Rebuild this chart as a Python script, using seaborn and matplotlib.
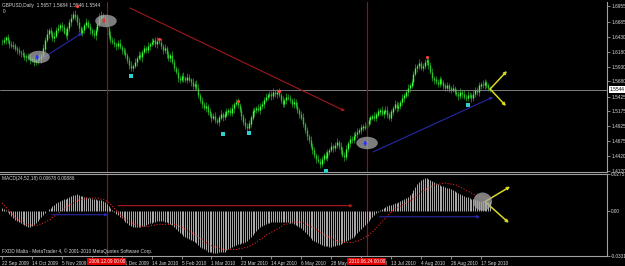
import numpy as np
import pandas as pd
import matplotlib
matplotlib.use("Agg")
import matplotlib.pyplot as plt
import matplotlib.transforms as mtransforms
from matplotlib.patches import Ellipse
import seaborn as sns

# ---------------- data ----------------
close = [
    1.635, 1.638, 1.642, 1.638, 1.631, 1.628, 1.630, 1.624, 1.621, 1.618,
    1.616, 1.613, 1.609, 1.611, 1.608, 1.604, 1.606, 1.601, 1.604, 1.609,
    1.607, 1.612, 1.624, 1.638, 1.648, 1.655, 1.650, 1.641, 1.645, 1.655,
    1.658, 1.663, 1.660, 1.651, 1.646, 1.658, 1.668, 1.675, 1.682, 1.678,
    1.668, 1.658, 1.651, 1.655, 1.663, 1.668, 1.661, 1.655, 1.650, 1.646,
    1.655, 1.665, 1.675, 1.680, 1.675, 1.668, 1.658, 1.646, 1.638, 1.635,
    1.631, 1.628, 1.633, 1.626, 1.621, 1.618, 1.613, 1.604, 1.596, 1.591,
    1.594, 1.601, 1.608, 1.613, 1.609, 1.618, 1.624, 1.621, 1.628, 1.631,
    1.635, 1.638, 1.631, 1.636, 1.635, 1.628, 1.621, 1.624, 1.614, 1.608,
    1.613, 1.601, 1.591, 1.584, 1.574, 1.571, 1.577, 1.574, 1.571, 1.576,
    1.571, 1.567, 1.561, 1.564, 1.557, 1.545, 1.537, 1.530, 1.523, 1.526,
    1.517, 1.512, 1.507, 1.510, 1.503, 1.500, 1.507, 1.513, 1.508, 1.512,
    1.517, 1.520, 1.515, 1.523, 1.530, 1.533, 1.528, 1.520, 1.510, 1.500,
    1.493, 1.490, 1.497, 1.507, 1.517, 1.520, 1.523, 1.520, 1.527, 1.530,
    1.537, 1.542, 1.545, 1.547, 1.544, 1.550, 1.547, 1.550, 1.545, 1.537,
    1.530, 1.537, 1.542, 1.540, 1.537, 1.530, 1.533, 1.527, 1.520, 1.513,
    1.507, 1.496, 1.486, 1.476, 1.469, 1.459, 1.452, 1.444, 1.437, 1.434,
    1.429, 1.437, 1.444, 1.440, 1.449, 1.452, 1.459, 1.456, 1.461, 1.466,
    1.459, 1.452, 1.444, 1.441, 1.454, 1.464, 1.471, 1.469, 1.476, 1.479,
    1.483, 1.486, 1.490, 1.493, 1.490, 1.496, 1.503, 1.507, 1.510, 1.507,
    1.512, 1.517, 1.520, 1.513, 1.517, 1.520, 1.512, 1.507, 1.517, 1.523,
    1.530, 1.523, 1.527, 1.533, 1.540, 1.544, 1.550, 1.557, 1.561, 1.567,
    1.581, 1.591, 1.594, 1.598, 1.591, 1.594, 1.601, 1.604, 1.596, 1.584,
    1.574, 1.571, 1.567, 1.564, 1.571, 1.566, 1.561, 1.557, 1.561, 1.556,
    1.554, 1.557, 1.550, 1.547, 1.544, 1.550, 1.547, 1.542, 1.540, 1.545,
    1.544, 1.540, 1.547, 1.554, 1.550, 1.561, 1.564, 1.562, 1.567, 1.561,
    1.557, 1.5544,
]

# upper / lower shadow lengths of each daily candle, in pips
wick_up_pips = [
    40, 55, 30, 62, 25, 48, 70, 35, 44, 58,
    33, 65, 42, 28, 50, 72, 38, 46, 60, 30,
    52, 36, 68, 45, 80, 40, 57, 34, 63, 49,
    70, 38, 55, 42, 66, 31, 58, 75, 47, 60,
    36, 64, 43, 52, 29, 71, 45, 59, 38, 66,
    54, 41, 77, 62, 35, 48, 56, 33, 69, 44,
    58, 30, 47, 65, 39, 53, 72, 36, 50, 61,
    43, 67, 34, 56, 48, 29, 63, 45, 70, 38,
    59, 35, 51, 74, 42, 57, 33, 66, 46, 52,
    37, 62, 48, 30, 68, 45, 55, 71, 39, 60,
    50, 34, 64, 43, 58, 76, 41, 53, 36, 67,
    45, 70, 38, 55, 62, 33, 49, 74, 42, 57,
    61, 39, 52, 68, 35, 47, 72, 44, 56, 31,
    66, 43, 58, 37, 71, 50, 34, 62, 48, 55,
    40, 64, 33, 57, 46, 69, 38, 53, 75, 44,
    58, 36, 67, 45, 52, 31, 63, 49, 71, 40,
    54, 73, 42, 60, 37, 66, 48, 57, 34, 69,
    45, 58, 32, 71, 50, 39, 64, 43, 56, 61,
    37, 68, 52, 44, 73, 35, 59, 47, 62, 50,
    66, 41, 55, 34, 60, 72, 46, 53, 38, 64,
    49, 57, 36, 68, 43, 61, 74, 40, 52, 33,
    70, 45, 58, 39, 65, 48, 55, 72, 37, 60,
    52, 66, 43, 75, 38, 59, 47, 68, 54, 41,
    63, 35, 57, 46, 70, 42, 53, 38, 66, 49,
    44, 61, 37, 55, 48, 69, 33, 58, 45, 62,
    56, 40, 67, 43, 52, 64, 39, 57, 48, 35,
    50, 42,
]
wick_dn_pips = [
    48, 35, 60, 44, 70, 32, 55, 41, 66, 50,
    62, 38, 53, 75, 42, 57, 34, 68, 45, 59,
    36, 71, 47, 58, 33, 64, 50, 43, 69, 39,
    55, 46, 63, 37, 52, 74, 41, 59, 35, 67,
    44, 60, 38, 70, 49, 56, 33, 65, 51, 42,
    73, 39, 58, 45, 62, 34, 69, 48, 55, 37,
    41, 66, 52, 36, 71, 47, 58, 43, 64, 50,
    59, 35, 68, 44, 53, 75, 40, 57, 46, 62,
    38, 54, 47, 65, 33, 60, 72, 42, 56, 49,
    67, 43, 58, 36, 61, 50, 39, 70, 45, 55,
    42, 64, 51, 73, 38, 57, 46, 62, 35, 68,
    56, 40, 69, 47, 53, 36, 65, 44, 71, 49,
    34, 62, 45, 58, 74, 41, 55, 38, 67, 52,
    48, 70, 39, 56, 43, 65, 59, 37, 61, 46,
    63, 37, 54, 42, 68, 50, 45, 72, 39, 57,
    44, 58, 66, 35, 60, 48, 71, 40, 53, 62,
    39, 52, 47, 69, 55, 36, 63, 44, 58, 41,
    71, 45, 59, 38, 64, 52, 34, 67, 49, 56,
    43, 60, 37, 72, 48, 57, 65, 40, 54, 46,
    58, 36, 68, 50, 44, 61, 39, 73, 47, 55,
    65, 42, 53, 38, 70, 46, 57, 35, 62, 51,
    37, 64, 49, 56, 43, 68, 41, 59, 72, 45,
    54, 40, 66, 48, 35, 61, 52, 44, 69, 38,
    47, 71, 39, 58, 52, 36, 64, 45, 57, 62,
    60, 38, 55, 43, 67, 49, 72, 41, 53, 46,
    35, 63, 48, 57, 40, 69, 52, 44, 61, 38,
    55, 47,
]

# MACD main (histogram) and signal, in thousandths
macd_main_e3 = [
    2.2, 1.5, 0.7, -0.7, -2.2, -3.7, -5.2, -6.7, -7.4, -8.2,
    -8.9, -9.7, -10.4, -11.2, -11.9, -11.9, -11.2, -10.4, -8.9, -7.4,
    -6.0, -4.5, -3.0, -1.5, 0.0, 1.5, 2.2, 3.7, 4.5, 6.0,
    6.7, 7.4, 8.2, 8.9, 8.9, 9.7, 10.4, 11.2, 11.9, 11.9,
    12.6, 11.9, 11.2, 11.2, 10.4, 10.4, 9.7, 9.7, 8.9, 8.9,
    8.9, 8.2, 8.2, 8.2, 7.4, 6.7, 5.2, 3.7, 2.2, 0.7,
    -0.7, -2.2, -3.0, -4.5, -5.2, -6.7, -8.2, -8.9, -10.4, -11.2,
    -11.9, -11.9, -11.9, -11.9, -11.9, -11.2, -11.2, -10.4, -9.7, -8.9,
    -8.9, -8.2, -8.2, -7.4, -7.4, -7.4, -7.4, -8.2, -8.2, -8.9,
    -9.7, -10.4, -11.9, -13.4, -14.9, -16.4, -17.1, -18.6, -19.3, -20.1,
    -20.8, -21.6, -22.3, -23.1, -23.8, -25.3, -26.8, -27.5, -28.3, -29.0,
    -29.8, -30.5, -30.5, -31.2, -31.2, -31.2, -30.5, -30.5, -29.8, -29.8,
    -29.0, -28.3, -27.5, -26.8, -26.0, -25.3, -24.6, -24.6, -23.8, -23.8,
    -23.1, -22.3, -20.8, -19.3, -17.9, -16.4, -14.9, -13.4, -11.9, -11.2,
    -10.4, -9.7, -8.9, -8.9, -8.2, -8.2, -8.2, -8.2, -8.2, -8.2,
    -8.2, -8.2, -8.2, -8.2, -8.9, -8.9, -9.7, -10.4, -11.2, -11.9,
    -12.6, -14.1, -15.6, -17.1, -18.6, -20.1, -21.6, -22.3, -23.1, -23.8,
    -24.6, -25.3, -26.0, -26.0, -26.0, -26.8, -26.8, -26.0, -26.0, -25.3,
    -25.3, -24.6, -23.8, -23.1, -22.3, -21.6, -20.8, -20.1, -19.3, -17.9,
    -16.4, -14.9, -13.4, -11.9, -10.4, -8.9, -7.4, -6.0, -4.5, -3.0,
    -1.5, -0.7, 0.7, 1.5, 2.2, 3.0, 3.7, 4.5, 4.5, 5.2,
    6.0, 6.0, 6.7, 7.4, 8.2, 8.9, 9.7, 10.4, 11.9, 13.4,
    15.6, 17.9, 20.1, 21.6, 23.1, 23.8, 24.6, 24.6, 23.8, 23.1,
    22.3, 21.6, 20.8, 20.1, 19.3, 18.6, 18.6, 17.9, 17.1, 17.1,
    16.4, 15.6, 14.9, 14.1, 13.4, 12.6, 11.9, 11.2, 10.4, 10.4,
    9.7, 8.9, 8.9, 8.2, 8.2, 7.4, 7.4, 7.4, 6.7, 6.7,
    6.7, 6.78,
]
macd_signal_e3 = [
    6.0, 4.5, 3.0, 1.5, 0.0, -1.5, -3.0, -4.5, -6.0, -6.7,
    -7.4, -8.2, -8.9, -9.7, -9.7, -10.4, -10.4, -10.4, -10.4, -10.4,
    -9.7, -9.7, -8.9, -8.2, -7.4, -6.7, -6.0, -4.5, -3.7, -3.0,
    -1.5, -0.7, 0.7, 1.5, 3.0, 3.7, 4.5, 5.2, 6.0, 6.7,
    7.4, 8.2, 8.2, 8.9, 8.9, 9.7, 9.7, 9.7, 9.7, 9.7,
    9.7, 9.7, 9.7, 8.9, 8.9, 8.2, 7.4, 6.7, 5.2, 3.7,
    2.2, 0.7, -0.7, -2.2, -3.7, -5.2, -6.0, -6.7, -7.4, -8.2,
    -8.9, -9.7, -10.4, -10.4, -11.2, -11.2, -11.2, -11.2, -11.2, -11.2,
    -10.4, -10.4, -10.4, -9.7, -9.7, -9.7, -9.7, -9.7, -9.7, -9.7,
    -9.7, -9.7, -9.7, -10.4, -10.4, -11.2, -11.9, -12.6, -13.4, -14.1,
    -14.9, -15.6, -16.4, -17.1, -17.9, -19.3, -20.1, -20.8, -22.3, -23.1,
    -23.8, -24.6, -25.3, -26.0, -26.8, -26.8, -27.5, -27.5, -28.3, -28.3,
    -28.3, -28.3, -28.3, -28.3, -28.3, -28.3, -28.3, -27.5, -27.5, -27.5,
    -26.8, -26.8, -26.0, -25.3, -24.6, -23.8, -23.1, -21.6, -20.8, -20.1,
    -19.3, -17.9, -17.1, -16.4, -15.6, -14.9, -14.1, -13.4, -12.6, -11.9,
    -10.4, -9.7, -9.7, -8.9, -8.9, -8.2, -8.2, -8.2, -8.2, -8.2,
    -8.2, -8.9, -8.9, -9.7, -10.4, -11.2, -11.9, -12.6, -13.4, -14.9,
    -15.6, -16.4, -17.1, -17.9, -18.6, -19.3, -20.1, -20.8, -21.6, -21.6,
    -22.3, -22.3, -23.1, -23.1, -23.1, -23.1, -23.1, -23.1, -23.1, -22.3,
    -22.3, -21.6, -20.8, -20.1, -19.3, -18.6, -17.9, -16.4, -15.6, -14.1,
    -12.6, -11.2, -9.7, -8.2, -6.7, -5.2, -3.7, -2.2, -0.7, 0.7,
    1.5, 2.2, 3.0, 3.7, 4.5, 5.2, 6.0, 6.7, 7.4, 8.2,
    9.7, 10.4, 11.9, 12.6, 14.1, 14.9, 15.6, 16.4, 17.1, 17.9,
    18.6, 19.3, 19.3, 20.1, 20.1, 20.1, 20.8, 20.8, 20.8, 20.1,
    20.1, 20.1, 19.3, 19.3, 18.6, 17.9, 17.1, 16.4, 15.6, 14.9,
    14.1, 13.4, 12.6, 11.9, 11.2, 11.2, 10.4, 10.4, 9.7, 9.7,
    8.9, 8.86,
]

date_labels = ["22 Sep 2009", "14 Oct 2009", "5 Nov 2009", "27 Nov 2009",
               "21 Dec 2009", "14 Jan 2010", "5 Feb 2010", "1 Mar 2010",
               "23 Mar 2010", "14 Apr 2010", "6 May 2010", "28 May 2010",
               "21 Jun 2010", "13 Jul 2010", "4 Aug 2010", "26 Aug 2010",
               "17 Sep 2010"]
date_tick_idx = [0, 16, 32, 48, 64, 80, 96, 112, 128, 144, 160, 176,
                 192, 208, 224, 240, 256]

price_ticks = [1.6955, 1.6685, 1.6430, 1.6180, 1.5930, 1.5680, 1.5425,
               1.5175, 1.4925, 1.4675, 1.4420, 1.4170]
macd_ticks = [0.02751, 0.0, -0.03312]
macd_tick_labels = ["0.02751", "0.00", "-0.03312"]
current_price = 1.5544

# marked dates (vertical lines)
vline_idx = [56, 195]
vline_labels = ["2009.12.09 00:00", "2010.06.24 00:00"]

# fractal markers
frac_up_idx = [40, 84, 126, 148, 227]
frac_up_price = [1.6953, 1.6397, 1.5351, 1.5520, 1.6093]
frac_dn_idx = [69, 118, 132, 173, 249]
frac_dn_price = [1.5773, 1.4794, 1.4811, 1.4175, 1.5283]

# drawn objects (index, value)
red_trend = [(68.4, 1.6920), (183.4, 1.5182)]
blue_trend1 = [(21.9, 1.6076), (42.8, 1.6498)]
blue_trend2 = [(198.4, 1.4491), (262.6, 1.5418)]
circles_main = [(19.8, 1.6093, "#3030ff", 1),
                (55.6, 1.6701, "#e03030", -1),
                (195.2, 1.4642, "#3030ff", 1)]
yellow_main = [(261.0, 1.5553), (270.0, 1.5857), (269.5, 1.5267)]
macd_blue1 = [(26.7, -0.0026), (56.7, -0.0026)]
macd_red = [(62.0, 0.0041), (187.7, 0.0041)]
macd_blue2 = [(202.0, -0.0041), (255.6, -0.0041)]
macd_circle = (257.0, 0.0071)
yellow_macd = [(258.3, 0.0071), (271.7, 0.0182), (271.0, -0.0086)]

# ---------------- build frames ----------------
n = len(close)
idx = np.arange(n)
df = pd.DataFrame({"idx": idx, "close": close,
                   "wu": np.array(wick_up_pips) * 1e-4,
                   "wd": np.array(wick_dn_pips) * 1e-4})
df["open"] = df["close"].shift(1).fillna(df["close"])
df["top"] = df[["open", "close"]].max(axis=1)
df["bot"] = df[["open", "close"]].min(axis=1)
df["high"] = df["top"] + df["wu"]
df["low"] = df["bot"] - df["wd"]
macd = pd.DataFrame({"idx": np.arange(len(macd_main_e3)),
                     "main": np.array(macd_main_e3) * 1e-3,
                     "signal": np.array(macd_signal_e3) * 1e-3})

# ---------------- style ----------------
sns.set_style("dark", {"axes.facecolor": "black", "figure.facecolor": "black"})
plt.rcParams["font.family"] = ["Liberation Sans", "DejaVu Sans"]
FS = 3.4
TXT = "#d8d8d8"
GRID = "#a0a0a0"

W, H = 625, 266
fig = plt.figure(figsize=(W / 100, H / 100), dpi=100, facecolor="black")

def px_rect(x0, y0, x1, y1):
    return [x0 / W, 1 - y1 / H, (x1 - x0) / W, (y1 - y0) / H]

ax = fig.add_axes(px_rect(0, 2, 607, 172))
ax2 = fig.add_axes(px_rect(0, 174, 607, 256), sharex=ax)
for a in (ax, ax2):
    a.set_facecolor("black")
    a.grid(False)
    a.spines["left"].set_visible(False)
    for s in ("right", "top", "bottom"):
        a.spines[s].set_color(GRID)
        a.spines[s].set_linewidth(0.8)
ax.spines["top"].set_visible(False)

xlim = (-1.07, 323.5)
ax.set_xlim(*xlim)
ax.set_ylim(1.4153, 1.7021)
ax2.set_ylim(-0.03312, 0.02751)

# candles
up = df["close"] >= df["open"]
ax.vlines(df["idx"], df["low"], df["high"], color="#1f9a1f", linewidth=0.55)
ax.vlines(df.loc[up, "idx"], df.loc[up, "bot"] - 0.0004, df.loc[up, "top"] + 0.0004,
          color="#3cff3c", linewidth=1.0)
ax.vlines(df.loc[~up, "idx"], df.loc[~up, "bot"] - 0.0004, df.loc[~up, "top"] + 0.0004,
          color="#2fc02f", linewidth=1.0)

# current price line
ax.axhline(current_price, color="#909090", linewidth=0.6)

# fractals
sns.scatterplot(x=frac_up_idx, y=frac_up_price, ax=ax, color="#ff4040",
                s=5, linewidth=0, marker="o", zorder=5)
sns.scatterplot(x=frac_dn_idx, y=frac_dn_price, ax=ax, color="#30d0d0",
                s=5, linewidth=0, marker="s", zorder=5)

# vertical marked lines
for vi in vline_idx:
    ax.axvline(vi, color="#c00000", linewidth=0.8)
    ax2.axvline(vi, color="#c00000", linewidth=0.8)

def arrow_line(a, pts, color, lw=0.8):
    (x0, y0), (x1, y1) = pts
    a.annotate("", xy=(x1, y1), xytext=(x0, y0),
               arrowprops=dict(arrowstyle="-|>", color=color,
                               lw=lw, mutation_scale=4, shrinkA=0, shrinkB=0))

arrow_line(ax, red_trend, "#a01818")
arrow_line(ax, blue_trend1, "#2828a8")
arrow_line(ax, blue_trend2, "#2828a8")

for cx, cy, ac, d in circles_main:
    ax.add_patch(Ellipse((cx, cy), 11.5, 0.021, facecolor="#a8a8a8", alpha=0.75,
                         edgecolor="none", zorder=6))
    ax.annotate("", xy=(cx - 1, cy + d * 0.005), xytext=(cx - 1, cy - d * 0.004),
                arrowprops=dict(arrowstyle="-|>", color=ac, lw=1.0,
                                mutation_scale=4, shrinkA=0, shrinkB=0), zorder=7)

for end in yellow_main[1:]:
    arrow_line(ax, [yellow_main[0], end], "#d8d820", lw=1.1)

# title texts
ax.text(0.004, 0.997, "GBPUSD,Daily  1.5657 1.5684 1.5546 1.5544", transform=ax.transAxes,
        color=TXT, fontsize=FS, va="top", ha="left")
ax.text(0.004, 0.96, "0", transform=ax.transAxes, color=TXT, fontsize=FS,
        va="top", ha="left")

# right axis ticks
for a in (ax, ax2):
    a.yaxis.tick_right()
    a.tick_params(axis="y", colors=GRID, labelcolor=TXT, labelsize=FS, length=2,
                  width=0.6, pad=1, direction="out")
ax.set_yticks(price_ticks)
ax.set_yticklabels([f"{v:.4f}" for v in price_ticks])
ax2.set_yticks(macd_ticks)
ax2.set_yticklabels(macd_tick_labels)
ax.set_ylabel("")
ax.set_xlabel("")
ax.tick_params(axis="x", bottom=False, labelbottom=False)

# current price box on axis
trans = mtransforms.blended_transform_factory(ax.transAxes, ax.transData)
ax.text(1.004, current_price, "1.5544", transform=trans, fontsize=FS, color="black",
        va="center", ha="left", bbox=dict(boxstyle="square,pad=0.15", fc="white",
                                           ec="none"), zorder=10, clip_on=False)

# MACD
ax2.vlines(macd["idx"], 0, macd["main"], color="#c8c8c8", linewidth=0.6)
sns.lineplot(data=macd, x="idx", y="signal", ax=ax2, color="#e02020",
             linewidth=0.8, linestyle=(0, (1, 1.6)))
ax2.set_ylabel("")
ax2.set_xlabel("")

arrow_line(ax2, macd_blue1, "#2828a8")
arrow_line(ax2, macd_red, "#b01818")
arrow_line(ax2, macd_blue2, "#2828a8")
ax2.add_patch(Ellipse(macd_circle, 10, 0.0135, facecolor="#a8a8a8", alpha=0.75,
                      edgecolor="none", zorder=6))
for end in yellow_macd[1:]:
    arrow_line(ax2, [yellow_macd[0], end], "#d8d820", lw=1.1)

ax2.text(0.004, 0.97, "MACD(24,52,18) 0.00678 0.00886", transform=ax2.transAxes,
         color=TXT, fontsize=FS, va="top", ha="left")
ax2.text(0.004, 0.03, "FXDD Malta - MetaTrader 4, \u00a9 2001-2010 MetaQuotes Software Corp.",
         transform=ax2.transAxes, color=TXT, fontsize=FS, va="bottom", ha="left")

# date axis
ax2.set_xticks(date_tick_idx)
ax2.set_xticklabels(date_labels)
ax2.tick_params(axis="x", colors=GRID, labelcolor=TXT, labelsize=FS, length=2.5,
                width=0.6, pad=1, direction="out", bottom=True)
for lab in ax2.get_xticklabels():
    lab.set_horizontalalignment("left")
ax2.set_xlim(*xlim)

transx = mtransforms.blended_transform_factory(ax2.transData, ax2.transAxes)
for vi, lbl in zip(vline_idx, vline_labels):
    ax2.text(vi, -0.035, lbl, transform=transx, fontsize=FS, color="white",
             ha="center", va="top", clip_on=False, zorder=20,
             bbox=dict(boxstyle="square,pad=0.25", fc="#e00000", ec="none"))

fig.savefig("out.png", dpi=100, facecolor="black")
